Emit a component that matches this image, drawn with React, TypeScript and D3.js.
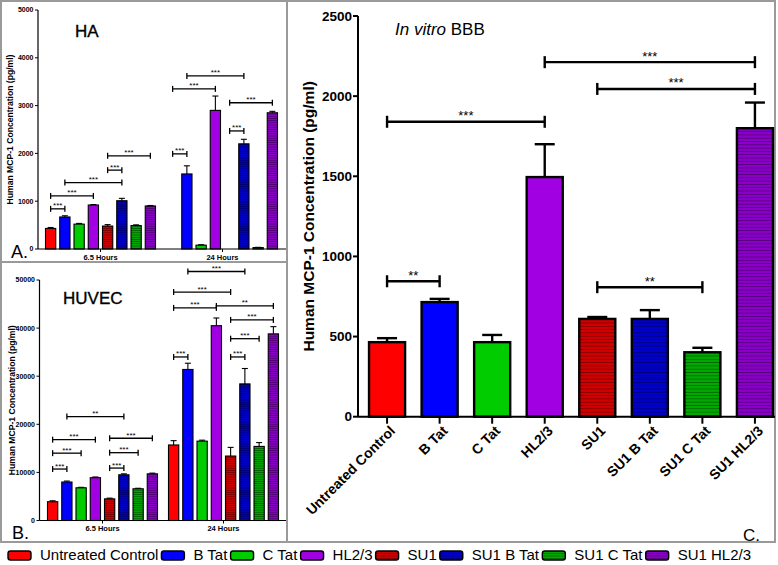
import React, { useMemo } from "react";
import * as d3 from "d3";

// ---------- data ----------
const treatments = ["Untreated Control", "B Tat", "C Tat", "HL2/3", "SU1", "SU1 B Tat", "SU1 C Tat", "SU1 HL2/3"];
const timepoints = ["6.5 Hours", "24 Hours"];
const fillColors = ["#ff0000", "#0000ff", "#00cc00", "#a100e3", "#d00000", "#0000c8", "#00a800", "#8a00c8"];
const striped = [false, false, false, false, true, true, true, true];

// HA (pg/ml)
const haMean65 = [430, 670, 520, 920, 480, 1010, 490, 900];
const haErr65 = [20, 25, 15, 10, 30, 50, 15, 10];
const haMean24 = [null, 1570, 80, 2900, null, 2200, 30, 2850];
const haErr24 = [0, 170, 10, 300, 0, 95, 5, 30];
const haTicks = [0, 1000, 2000, 3000, 4000, 5000];
// [timepoint, fromIdx, toIdx, value, label]
const haBrackets: [number, number, number, number, string][] = [
  [0, 0, 1, 840, "***"],
  [0, 0, 3, 1110, "***"],
  [0, 1, 5, 1390, "***"],
  [0, 4, 5, 1650, "***"],
  [0, 4, 7, 1950, "***"],
  [1, 0, 1, 1990, "***"],
  [1, 0, 3, 3350, "***"],
  [1, 1, 5, 3620, "***"],
  [1, 4, 5, 2470, "***"],
  [1, 4, 7, 3060, "***"],
];

// HUVEC (pg/ml)
const hvMean65 = [3900, 8000, 6800, 8900, 4500, 9500, 6600, 9700];
const hvErr65 = [200, 200, 100, 150, 150, 200, 100, 150];
const hvMean24 = [15700, 31400, 16500, 40500, 13400, 28400, 15400, 38800];
const hvErr24 = [900, 1300, 200, 1600, 1800, 3200, 800, 1500];
const hvTicks = [0, 10000, 20000, 30000, 40000, 50000];
const hvBrackets: [number, number, number, number, string][] = [
  [0, 0, 1, 10700, "***"],
  [0, 0, 2, 14000, "***"],
  [0, 0, 3, 16800, "***"],
  [0, 1, 5, 21600, "**"],
  [0, 4, 5, 10900, "***"],
  [0, 4, 6, 14100, "***"],
  [0, 4, 7, 17100, "***"],
  [1, 0, 1, 34000, "***"],
  [1, 0, 3, 44200, "***"],
  [1, 0, 4, 47500, "***"],
  [1, 1, 5, 51770, "***"],
  [1, 3, 7, 44600, "**"],
  [1, 4, 7, 41700, "***"],
  [1, 4, 6, 37800, "***"],
  [1, 4, 5, 34000, "***"],
];

// In vitro BBB (pg/ml)
const bbbMean = [465, 715, 465, 1495, 610, 610, 402, 1800];
const bbbErr = [25, 20, 45, 205, 12, 55, 28, 160];
const bbbTicks = [0, 500, 1000, 1500, 2000, 2500];
const bbbBrackets: [number, number, number, string][] = [
  [0, 1, 845, "**"],
  [0, 3, 1840, "***"],
  [4, 6, 808, "**"],
  [4, 7, 2045, "***"],
  [3, 7, 2212, "***"],
];

const yLabel = "Human MCP-1 Concentration (pg/ml)";
const FONT = '"Liberation Sans", Arial, Helvetica, sans-serif';

const fillFor = (i: number, set: string) => (striped[i] ? `url(#stripe-${set}-${i})` : fillColors[i]);

function Patterns() {
  const sets = [
    { id: "C", h: 3.3 },
    { id: "S", h: 2.2 },
    { id: "L", h: 2.6 },
  ];
  return (
    <defs>
      {sets.map((s) =>
        fillColors.map((c, i) => (
          <pattern key={s.id + i} id={`stripe-${s.id}-${i}`} width={6} height={s.h} patternUnits="userSpaceOnUse">
            <rect width={6} height={s.h} fill={c} />
            <line x1={0} x2={6} y1={s.h - 0.4} y2={s.h - 0.4} stroke="rgba(0,0,0,0.45)" strokeWidth={0.8} />
          </pattern>
        ))
      )}
    </defs>
  );
}

type SmallProps = {
  means: (number | null)[][];
  errs: number[][];
  brackets: [number, number, number, number, string][];
  ticks: number[];
  yMax: number;
  y0: number;
  y1: number;
  axisX: number;
  rightX: number;
  groupCenters: [number, number];
  title: string;
  titleX: number;
  titleY: number;
  letter: string;
  letterX: number;
  letterY: number;
};

function SmallPanel(p: SmallProps) {
  const y = d3.scaleLinear().domain([0, p.yMax]).range([p.y0, p.y1]);
  const gx = d3.scalePoint<string>().domain(timepoints).range(p.groupCenters);
  const inner = d3.scaleBand<string>().domain(treatments).range([-57, 57]).paddingInner(0.28).paddingOuter(0.14);
  const bw = inner.bandwidth();
  const cx = (g: number, i: number) => (gx(timepoints[g]) as number) + (inner(treatments[i]) as number) + bw / 2;
  const fmt = d3.format("d");
  return (
    <g>
      {p.means.map((arr, g) =>
        arr.map((v, i) => {
          if (v == null) return null;
          const top = y(v);
          const e = p.errs[g][i];
          const c = cx(g, i);
          return (
            <g key={`${g}-${i}`}>
              {e > 0 && (
                <g stroke="#000" strokeWidth={1.1}>
                  <line x1={c} x2={c} y1={top} y2={y(v + e)} />
                  <line x1={c - 3} x2={c + 3} y1={y(v + e)} y2={y(v + e)} />
                </g>
              )}
              <rect x={c - bw / 2} y={top} width={bw} height={p.y0 - top} fill={fillFor(i, "S")} stroke="#000" strokeWidth={1.1} />
            </g>
          );
        })
      )}
      {p.brackets.map(([g, a, b, v, lab], k) => {
        const x1 = cx(g, a);
        const x2 = cx(g, b);
        const yy = y(v);
        return (
          <g key={k}>
            <g stroke="#000" strokeWidth={1.3}>
              <line x1={x1} x2={x2} y1={yy} y2={yy} />
              <line x1={x1} x2={x1} y1={yy - 3} y2={yy + 3} />
              <line x1={x2} x2={x2} y1={yy - 3} y2={yy + 3} />
            </g>
            <text x={(x1 + x2) / 2} y={yy - 0.5} fontSize={8} textAnchor="middle" fill="#000">
              {lab}
            </text>
          </g>
        );
      })}
      <line x1={p.axisX} x2={p.axisX} y1={p.y0} y2={y(p.yMax)} stroke="#000" strokeWidth={1.2} />
      {p.ticks.map((t) => (
        <g key={t}>
          <line x1={p.axisX - 3} x2={p.axisX} y1={y(t)} y2={y(t)} stroke="#000" strokeWidth={1} />
          <text x={p.axisX - 4.5} y={y(t)} dy="0.35em" fontSize={7} fontWeight="bold" textAnchor="end">
            {fmt(t)}
          </text>
        </g>
      ))}
      <text
        transform={`translate(${p.axisX - 25},${(p.y0 + p.y1) / 2}) rotate(-90)`}
        fontSize={8.6}
        fontWeight="bold"
        textAnchor="middle"
      >
        {yLabel}
      </text>
      <line x1={p.axisX} x2={p.rightX} y1={p.y0} y2={p.y0} stroke="#000" strokeWidth={1.2} />
      {timepoints.map((t) => (
        <g key={t}>
          <line x1={gx(t)} x2={gx(t)} y1={p.y0} y2={p.y0 + 3} stroke="#000" strokeWidth={1} />
          <text x={gx(t)} y={p.y0 + 10.5} fontSize={7.5} fontWeight="bold" textAnchor="middle">
            {t}
          </text>
        </g>
      ))}
      <text x={p.titleX} y={p.titleY} fontSize={17} stroke="#000" strokeWidth={0.35}>
        {p.title}
      </text>
      <text x={p.letterX} y={p.letterY} fontSize={18}>
        {p.letter}
      </text>
    </g>
  );
}

function BBBPanel() {
  const axisX = 358;
  const y0 = 416.7;
  const y = d3.scaleLinear().domain([0, 2500]).range([y0, 16]);
  const x = d3.scaleBand<string>().domain(treatments).range([axisX, 784]).paddingInner(0.314).paddingOuter(0.21);
  const bw = x.bandwidth();
  const cx = (i: number) => (x(treatments[i]) as number) + bw / 2;
  return (
    <g>
      {bbbMean.map((v, i) => {
        const c = cx(i);
        const top = y(v);
        const et = y(v + bbbErr[i]);
        return (
          <g key={i}>
            <g stroke="#000" strokeWidth={2.4}>
              <line x1={c} x2={c} y1={top} y2={et} />
              <line x1={c - 10} x2={c + 10} y1={et} y2={et} />
            </g>
            <rect x={c - bw / 2} y={top} width={bw} height={y0 - top} fill={fillFor(i, "C")} stroke="#000" strokeWidth={2.4} />
          </g>
        );
      })}
      {bbbBrackets.map(([a, b, v, lab], k) => {
        const x1 = cx(a);
        const x2 = cx(b);
        const yy = y(v);
        return (
          <g key={k}>
            <g stroke="#000" strokeWidth={2.4}>
              <line x1={x1} x2={x2} y1={yy} y2={yy} />
              <line x1={x1} x2={x1} y1={yy - 6} y2={yy + 6} />
              <line x1={x2} x2={x2} y1={yy - 6} y2={yy + 6} />
            </g>
            <text x={(x1 + x2) / 2} y={yy - 1.5} fontSize={13} textAnchor="middle">
              {lab}
            </text>
          </g>
        );
      })}
      <line x1={axisX} x2={axisX} y1={y0} y2={y(2500)} stroke="#000" strokeWidth={2} />
      {bbbTicks.map((t) => (
        <g key={t}>
          <line x1={axisX - 5} x2={axisX} y1={y(t)} y2={y(t)} stroke="#000" strokeWidth={2} />
          <text x={axisX - 6} y={y(t)} dy="0.35em" fontSize={13.5} fontWeight="bold" textAnchor="end">
            {t}
          </text>
        </g>
      ))}
      <text transform={`translate(314,${(y0 + y(2500)) / 2}) rotate(-90)`} fontSize={15.5} fontWeight="bold" textAnchor="middle">
        {yLabel}
      </text>
      <line x1={axisX} x2={775} y1={y0} y2={y0} stroke="#000" strokeWidth={2} />
      {treatments.map((t, i) => (
        <g key={t}>
          <line x1={cx(i)} x2={cx(i)} y1={y0} y2={y0 + 7} stroke="#000" strokeWidth={2} />
          <text
            transform={`translate(${cx(i) + 9},${y0 + 15}) rotate(-45)`}
            fontSize={14}
            fontWeight="bold"
            textAnchor="end"
          >
            {t}
          </text>
        </g>
      ))}
      <text x={395} y={35} fontSize={17}>
        <tspan fontStyle="italic">In vitro</tspan> BBB
      </text>
      <text x={743} y={541} fontSize={17}>
        C.
      </text>
    </g>
  );
}

function Legend() {
  const fs = 15;
  const widths = useMemo(() => {
    const ctx = document.createElement("canvas").getContext("2d");
    if (!ctx) return treatments.map((t) => t.length * fs * 0.55);
    ctx.font = `${fs}px "Liberation Sans"`;
    return treatments.map((t) => ctx.measureText(t).width);
  }, []);
  const swW = 23;
  const gapA = 9;
  const gapB = 3;
  let xPos = 8;
  const items = treatments.map((t, i) => {
    const x0 = xPos;
    xPos += swW + gapA + widths[i] + gapB;
    return { t, i, x0 };
  });
  return (
    <g>
      {items.map(({ t, i, x0 }) => (
        <g key={t}>
          <rect x={x0} y={551} width={swW} height={9} rx={2.5} fill={fillFor(i, "L")} stroke="#000" strokeWidth={1.4} />
          <text x={x0 + swW + gapA} y={560} fontSize={fs}>
            {t}
          </text>
        </g>
      ))}
    </g>
  );
}

export default function App() {
  return (
    <div style={{ position: "absolute", left: 0, top: 0 }}>
      <svg width={778} height={565} style={{ display: "block", background: "#fff", fontFamily: FONT }}>
        <Patterns />
        <rect x={0} y={0} width={778} height={565} fill="#fff" />
        <rect x={1} y={1} width={774} height={541} fill="none" stroke="#9a9a9a" strokeWidth={2} />
        <line x1={287} x2={287} y1={1} y2={542} stroke="#9a9a9a" strokeWidth={2} />
        <line x1={1} x2={287} y1={262} y2={262} stroke="#9a9a9a" strokeWidth={2} />
        <SmallPanel
          means={[haMean65, haMean24]}
          errs={[haErr65, haErr24]}
          brackets={haBrackets}
          ticks={haTicks}
          yMax={5000}
          y0={249}
          y1={10}
          axisX={38}
          rightX={286}
          groupCenters={[100.5, 222.5]}
          title="HA"
          titleX={75}
          titleY={37}
          letter="A."
          letterX={11}
          letterY={258}
        />
        <SmallPanel
          means={[hvMean65, hvMean24]}
          errs={[hvErr65, hvErr24]}
          brackets={hvBrackets}
          ticks={hvTicks}
          yMax={50000}
          y0={520.5}
          y1={280}
          axisX={39.5}
          rightX={286}
          groupCenters={[102.5, 223.5]}
          title="HUVEC"
          titleX={63}
          titleY={304}
          letter="B."
          letterX={12}
          letterY={539}
        />
        <BBBPanel />
        <Legend />
      </svg>
    </div>
  );
}
